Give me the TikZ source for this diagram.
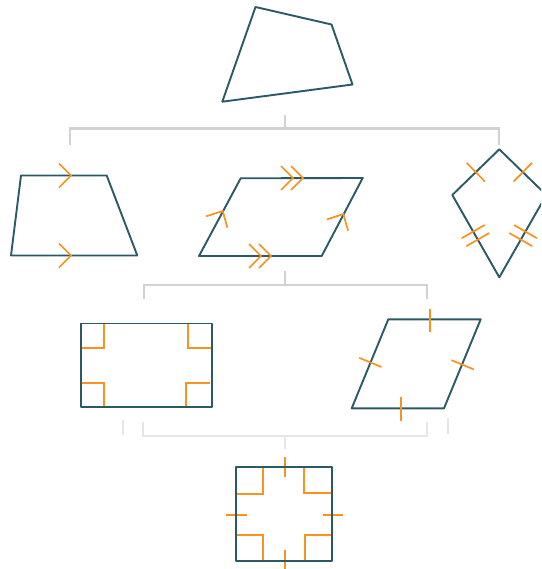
\documentclass[tikz,border=0pt]{standalone}
\begin{document}
\begin{tikzpicture}[x=1pt,y=-1pt,line join=miter]
\definecolor{shapecol}{HTML}{2B5A66}
\definecolor{markcol}{HTML}{F7931E}
\definecolor{linkA}{HTML}{D2D2D2}
\definecolor{linkB}{HTML}{E6E6E6}
\tikzset{
  shapeline/.style={draw=shapecol,line width=1.9pt,line join=round},
  markline/.style={draw=markcol,line width=1.7pt},
  linkline/.style={draw=linkA,line width=2.6pt},
  linklight/.style={draw=linkB,line width=2.6pt}
}
\clip (0,0) rectangle (541,569);
\fill[white] (0,0) rectangle (541,569);

% ---------- connectors ----------
\draw[linkline] (70,145) -- (70,128.5) -- (499,128.5) -- (499,145);
\draw[linkline] (285,115) -- (285,128.5);
\draw[linkline] (144,299) -- (144,285) -- (427,285) -- (427,299);
\draw[linkline] (285,271) -- (285,285);
\draw[linklight] (143,422) -- (143,436) -- (427,436) -- (427,422);
\draw[linklight] (285,436) -- (285,449);
\draw[linklight] (123,420) -- (123,435);
\draw[linklight] (448,418) -- (448,434);

% ---------- top quadrilateral ----------
\coordinate (q1) at (255.5,7);
\coordinate (q2) at (331.5,24.5);
\coordinate (q3) at (352.5,84.5);
\coordinate (q4) at (222.3,101.7);
\draw[shapeline] (q1) -- (q2) -- (q3) -- (q4) -- cycle;

% ---------- trapezoid ----------
\coordinate (t1) at (21,175.5);
\coordinate (t2) at (106.7,175.5);
\coordinate (t3) at (137.3,255.5);
\coordinate (t4) at (11,255.5);
\draw[shapeline] (t1) -- (t2) -- (t3) -- (t4) -- cycle;
\draw[markline] (59,163.5) -- (71,175.5) -- (59,187.5);
\draw[markline] (59,243.5) -- (71,255.5) -- (59,267.5);

% ---------- parallelogram ----------
\coordinate (p1) at (240.7,178.3);
\coordinate (p2) at (362.7,178);
\coordinate (p3) at (321.7,256);
\coordinate (p4) at (199,256);
\draw[shapeline] (p1) -- (p2) -- (p3) -- (p4) -- cycle;
\draw[markline] (281,166) -- (293,178) -- (281,190);
\draw[markline] (291,166) -- (303,178) -- (291,190);
\draw[markline] (249,244) -- (261,256) -- (249,268);
\draw[markline] (259,244) -- (271,256) -- (259,268);
\draw[markline] (206.2,216.3) -- (222.7,211) -- (227.4,227.7);
\draw[markline] (326.9,219.5) -- (343.3,214) -- (348.1,230.7);

% ---------- kite ----------
\coordinate (k1) at (499.3,149.3);
\coordinate (k2) at (452.3,195);
\coordinate (k3) at (499.3,277.3);
\coordinate (k4) at (546.3,195);
\draw[shapeline] (k1) -- (k2) -- (k3) -- (k4) -- cycle;
\draw[markline] (466.7,162.9) -- (484.9,181.5);
\draw[markline] (531.9,162.9) -- (513.7,181.5);
\draw[markline] (461.7,238.2) -- (484.7,225.0);
\draw[markline] (466.3,246.2) -- (489.3,233.0);
\draw[markline] (536.9,238.2) -- (513.9,225.0);
\draw[markline] (532.3,246.2) -- (509.3,233.0);

% ---------- rectangle ----------
\coordinate (r1) at (81,323.5);
\coordinate (r2) at (212.3,407.3);
\draw[markline] (81,348.3) -- (104.3,348.3) -- (104.3,323.5);
\draw[markline] (187.7,323.5) -- (187.7,348.3) -- (212.3,348.3);
\draw[markline] (81,382.7) -- (104.3,382.7) -- (104.3,407.3);
\draw[markline] (186.3,407.3) -- (186.3,382.7) -- (210,382.7);
\draw[shapeline] (r1) rectangle (r2);

% ---------- rhombus ----------
\coordinate (h1) at (388.3,319.3);
\coordinate (h2) at (480.7,319.3);
\coordinate (h3) at (444,408.3);
\coordinate (h4) at (351.7,408.3);
\draw[shapeline] (h1) -- (h2) -- (h3) -- (h4) -- cycle;
\draw[markline] (430,309) -- (430,332.3);
\draw[markline] (400.7,396.7) -- (400.7,420.7);
\draw[markline] (359.2,357.8) -- (381.4,367);
\draw[markline] (451.5,360.2) -- (473.8,369.4);

% ---------- square ----------
\coordinate (s1) at (236.3,467.3);
\coordinate (s2) at (332.3,561.3);
\draw[markline] (236.3,494) -- (263.3,494) -- (263.3,467.3);
\draw[markline] (304.3,467.3) -- (304.3,493) -- (332.3,493);
\draw[markline] (236.3,535) -- (263.3,535) -- (263.3,561.3);
\draw[markline] (305.3,561.3) -- (305.3,535) -- (332.3,535);
\draw[markline] (285,456.7) -- (285,476.7);
\draw[markline] (285,550) -- (285,569);
\draw[markline] (226,515.2) -- (246.7,515.2);
\draw[markline] (322.7,515.2) -- (343.3,515.2);
\draw[shapeline] (s1) rectangle (s2);
\end{tikzpicture}
\end{document}
